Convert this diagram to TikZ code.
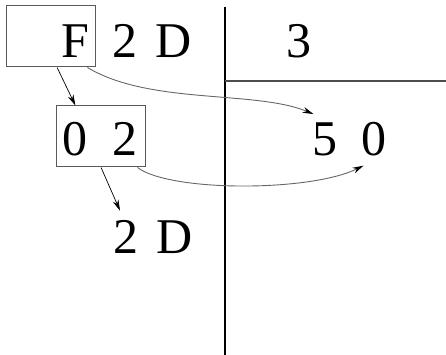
\documentclass[tikz,border=0pt]{standalone}
\usepackage{fontspec}
\setmainfont{Liberation Serif}
\usetikzlibrary{arrows.meta,calc}

\begin{document}
\begin{tikzpicture}[
    x=1pt, y=-1pt,
    glyph/.style={inner sep=9pt, anchor=base, font=\fontsize{50}{50}\selectfont},
    cellbox/.style={rectangle, draw=black!65, line width=1pt, inner sep=0pt, minimum width=89pt, minimum height=61pt},
    arrow/.style={-{Stealth[length=11pt,width=6pt]}, line width=0.7pt, draw=black},
    curvearrow/.style={-{Stealth[length=11pt,width=6pt,black]}, line width=0.9pt, draw=black!60}
]
\useasboundingbox (0,0) rectangle (446,355);

% Part 1: dividers
\draw[line width=1.2pt] (225,7) -- (225,355);
\draw[black!70, line width=1.5pt] (225,81) -- (446,81);

% Part 2: first row
\node[cellbox] (boxF) at (50.5,36.5) {};
\node[glyph] (fA) at (75,58) {F};
\node[glyph] (twoA) at (124.5,58) {2};
\node[glyph] (dA) at (174,58) {D};
\node[glyph] (threeA) at (298.5,58) {3};

% Part 3: second row
\node[cellbox] (boxZ) at (100.5,136.5) {};
\node[glyph] (zeroB) at (74.5,156) {0};
\node[glyph] (twoB) at (125,156) {2};
\node[glyph] (fiveR) at (325,156) {5};
\node[glyph] (zeroR) at (374,156) {0};

% Part 4: third row
\node[glyph] (twoC) at (125.5,253) {2};
\node[glyph] (dC) at (175,253) {D};

% Arrows
\draw[arrow] (boxF.-78) -- (boxZ.129);
\draw[arrow] (boxZ.-89) -- (twoC.102);
\draw[curvearrow] (boxF.-40) .. controls (150,105) and (255,90) .. (fiveR.114);
\draw[curvearrow] (boxZ.-40) .. controls (170,192) and (310,192) .. (zeroR.-112);

\end{tikzpicture}
\end{document}
